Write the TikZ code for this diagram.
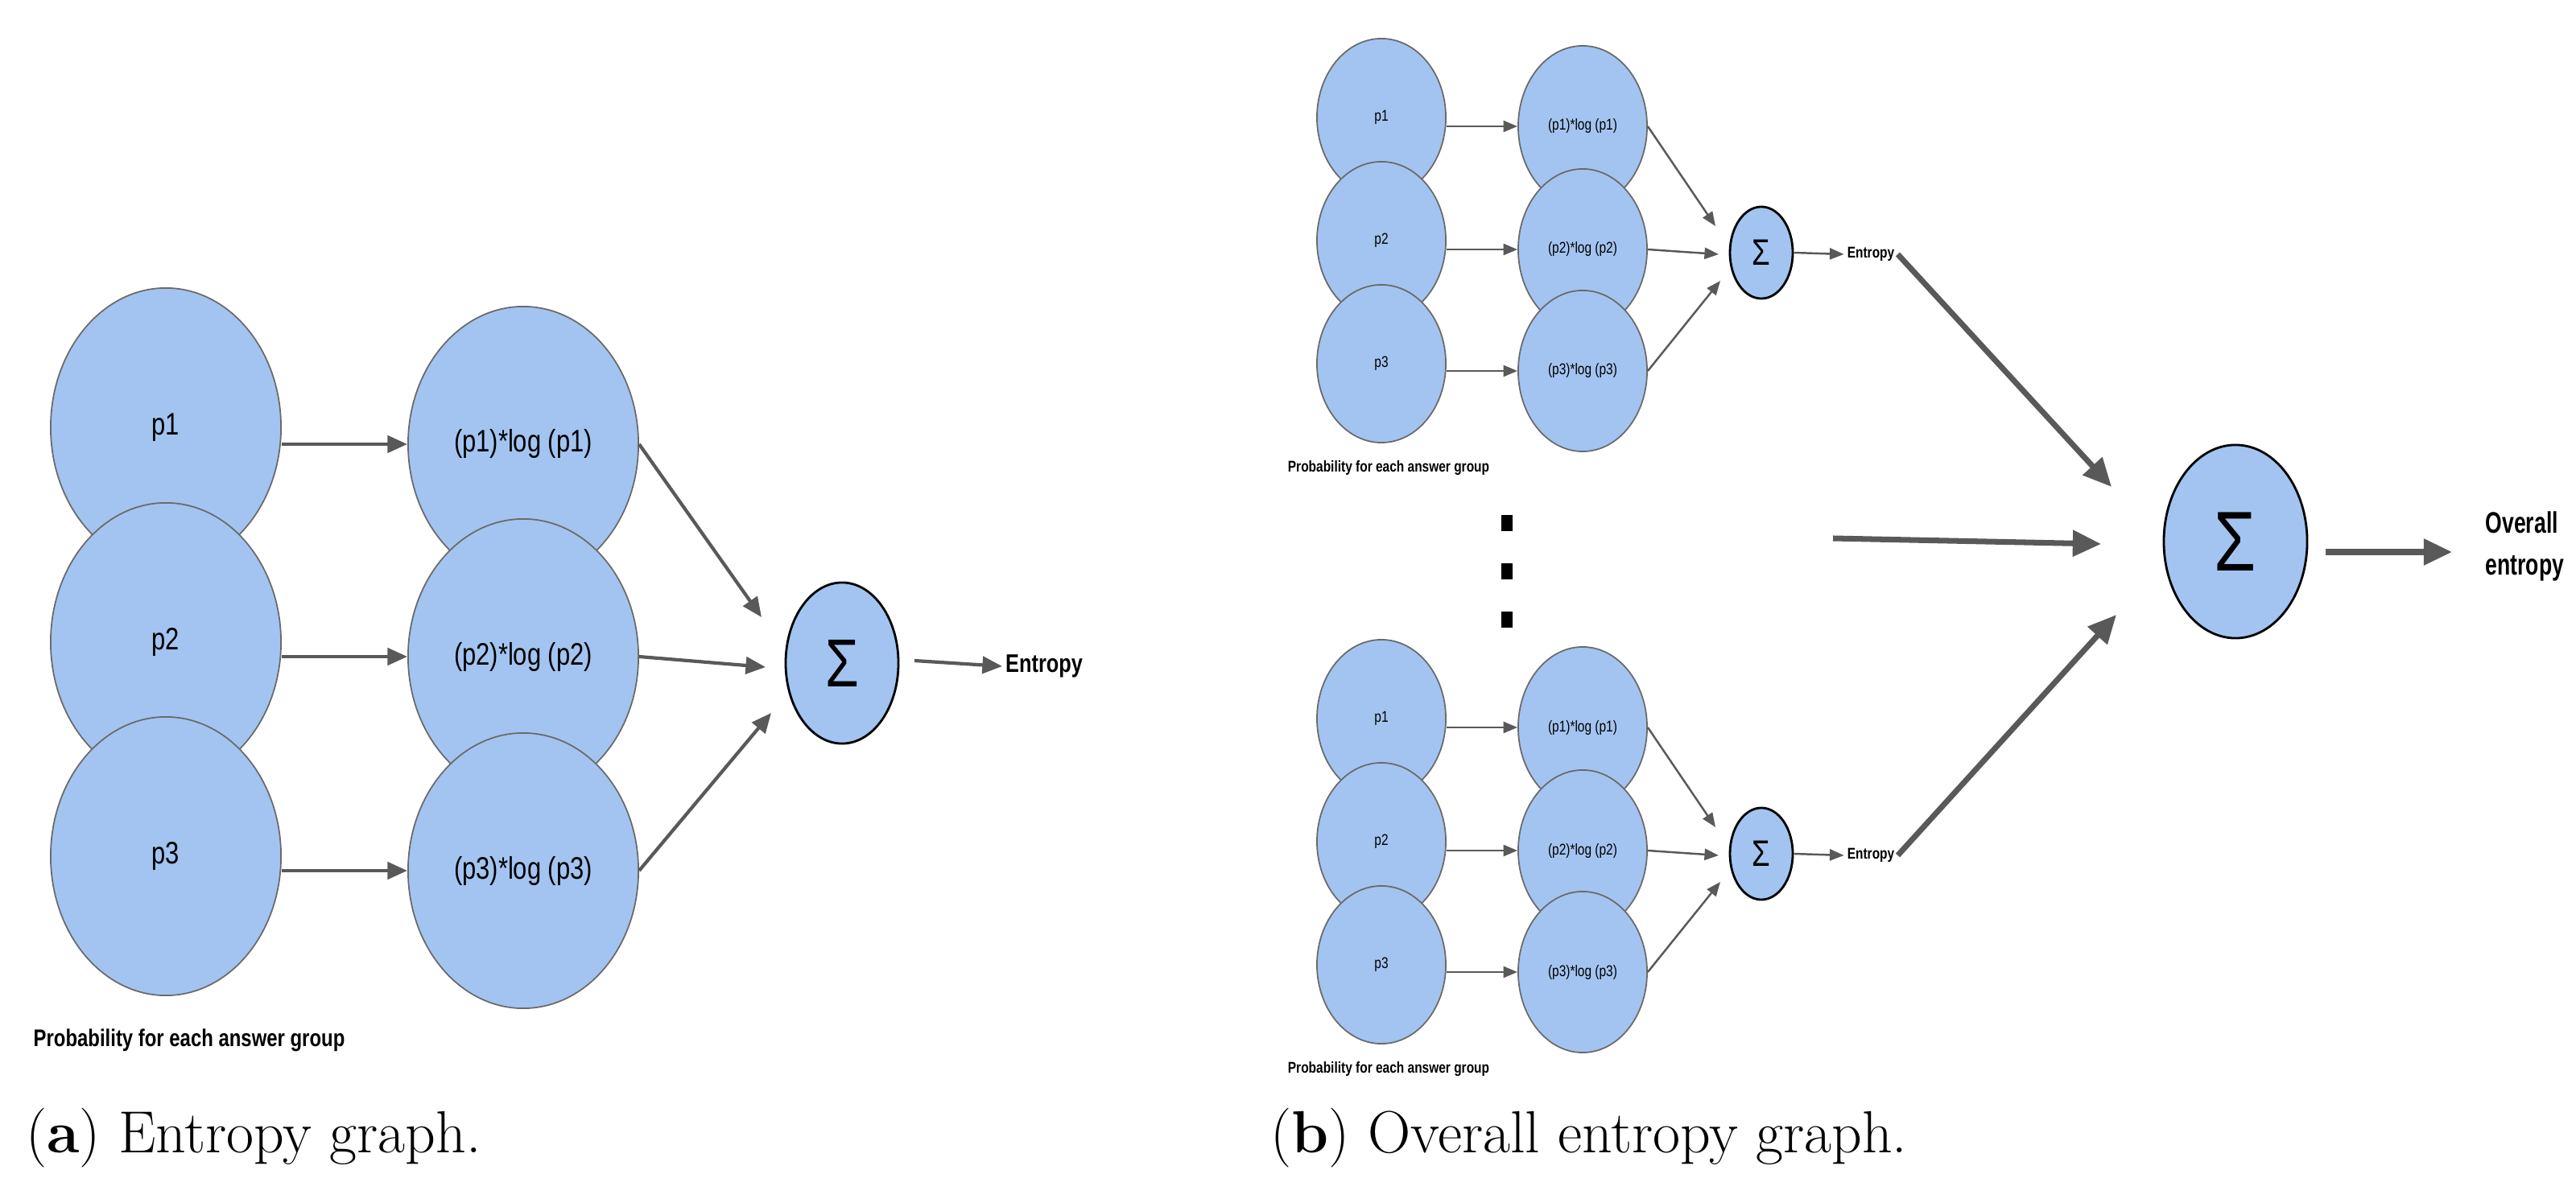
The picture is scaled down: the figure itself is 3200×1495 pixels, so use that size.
\documentclass[tikz,border=0pt]{standalone}
\usepackage{fontspec}
\newfontfamily\arialn{Liberation Sans}[FakeStretch=0.8]
\newfontfamily\arialc{Liberation Sans}[FakeStretch=0.72]
\usetikzlibrary{arrows.meta,shapes.geometric}
\definecolor{bub}{HTML}{A3C4F0}
\definecolor{edg}{HTML}{6A6A6A}
\definecolor{arr}{HTML}{595959}
\tikzset{
 bubble/.style={ellipse,draw=edg,fill=bub,line width=0.5pt,inner sep=0pt,font=\arialn},
 sig/.style={ellipse,draw=black,fill=bub,line width=0.8pt,inner sep=0pt,font=\arialn},
 con/.style={draw=arr,-{Triangle[length=7pt,width=6pt]},line width=1.2pt},
 cons/.style={draw=arr,-{Triangle[length=5pt,width=4pt]},line width=0.7pt},
 conb/.style={draw=arr,-{Triangle[length=10pt,width=9pt]},line width=2pt},
}
\newcommand\mygroup[2]{% prefix, y offset
 \foreach \i/\yy/\zz in {1/146/157,2/299/310,3/452/461}{
  \node[bubble,minimum width=1.6cm,minimum height=1.96cm,font=\arialn\fontsize{5.5}{6}\selectfont] (#1p\i) at (1716,\yy+#2) {p\i};
 }
 \foreach \i/\yy/\zz in {1/146/157,2/299/310,3/452/461}{
  \node[bubble,minimum width=1.6cm,minimum height=2.0cm,font=\arialn\fontsize{5.5}{6}\selectfont] (#1q\i) at (1966,\zz+#2) {(p\i)*log (p\i)};
 }
 \node[sig,minimum width=0.78cm,minimum height=1.14cm,font=\arialn\fontsize{13}{14}\selectfont] (#1s) at (2188,314+#2) {Σ};
 \node[font=\arialn\bfseries\fontsize{5.5}{6}\selectfont,inner sep=1pt] (#1e) at (2324,316+#2) {Entropy};
 \node[font=\arialn\bfseries\fontsize{5.5}{6}\selectfont] (#1l) at (1725,582+#2) {Probability for each answer group};
 \foreach \i in {1,2,3}{\draw[cons] (#1p\i.east |- #1q\i.west) -- (#1q\i.west);}
 \draw[cons] (#1q1.east) -- (2131,281+#2);
 \draw[cons] (#1q2.east) -- (2135,316+#2);
 \draw[cons] (#1q3.east) -- (2137,349+#2);
 \draw[cons] (#1s.east) -- (#1e.west);
}
\begin{document}
\begin{tikzpicture}[x=0.01cm,y=-0.01cm]
\useasboundingbox (0,0) rectangle (3200,1495);
% ---------- panel (a)
\foreach \i/\yy in {1/531,2/798,3/1064}{
 \node[bubble,minimum width=2.86cm,minimum height=3.46cm,font=\arialn\fontsize{11}{12}\selectfont] (ap\i) at (206,\yy) {p\i};
}
\foreach \i/\yy in {1/552,2/816,3/1082}{
 \node[bubble,minimum width=2.86cm,minimum height=3.42cm,font=\arialn\fontsize{11}{12}\selectfont] (aq\i) at (650,\yy) {(p\i)*log (p\i)};
}
\node[sig,minimum width=1.4cm,minimum height=2.0cm,font=\arialn\fontsize{24}{26}\selectfont] (as) at (1046,824) {Σ};
\node[font=\arialn\bfseries\fontsize{9}{10}\selectfont,anchor=west,inner sep=1pt] (ae) at (1245,828) {Entropy};
\node[font=\arialn\bfseries\fontsize{8.5}{10}\selectfont,anchor=west,inner sep=0pt] (al) at (41,1293) {Probability for each answer group};
\foreach \i in {1,2,3}{\draw[con] (ap\i.east |- aq\i.west) -- (aq\i.west);}
\draw[con] (aq1.east) -- (946,767);
\draw[con] (aq2.east) -- (951,829);
\draw[con] (aq3.east) -- (958,886);
\draw[con] (1136,821) -- (ae.west);
\node[anchor=west,font=\fontsize{21}{24}\selectfont] (ca) at (20,1414) {(\textbf{a}) Entropy graph.};
% ---------- panel (b)
\mygroup{t}{0}
\mygroup{b}{747}
\foreach \yy in {650,710,770}{\fill (1865,\yy-10) rectangle (1879,\yy+10);}
\node[sig,minimum width=1.78cm,minimum height=2.4cm,font=\arialn\fontsize{30}{32}\selectfont] (S) at (2777,673) {Σ};
\node[font=\arialc\bfseries\fontsize{10.5}{15}\selectfont,anchor=west,align=left,inner sep=0pt] (O) at (3087,679) {Overall\\entropy};
\coordinate (m) at (2277,669);
\draw[conb] (te.east) -- (2623,605);
\draw[conb] (m) -- (2610,676);
\draw[conb] (be.east) -- (2629,764);
\draw[conb] (2889,686) -- (3046,686);
\node[anchor=west,font=\fontsize{21}{24}\selectfont] (cb) at (1566,1414) {(\textbf{b}) Overall entropy graph.};
\end{tikzpicture}
\end{document}
